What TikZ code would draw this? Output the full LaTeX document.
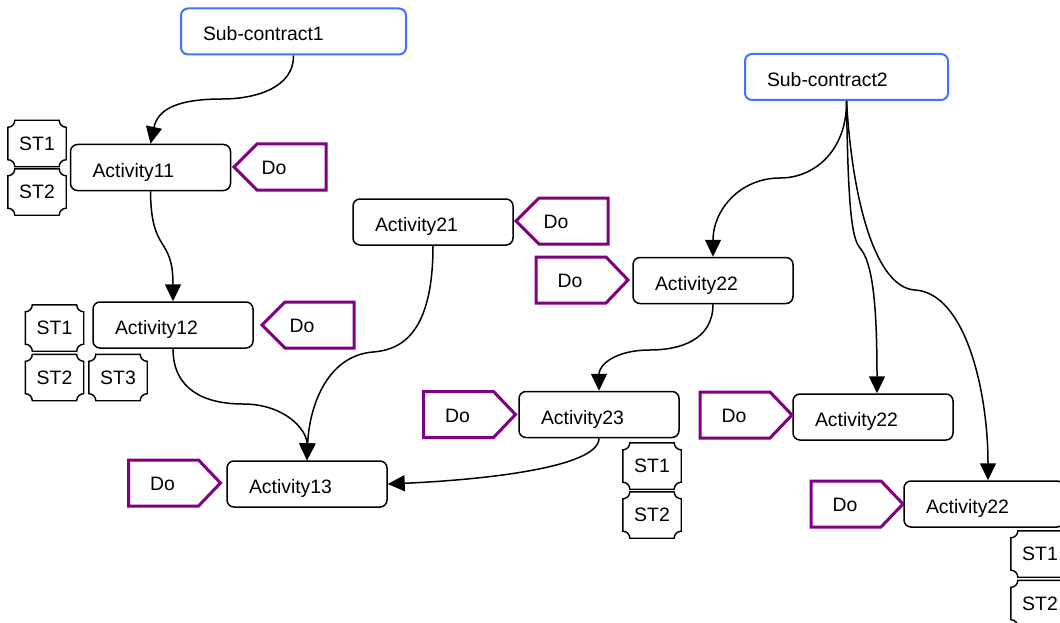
\documentclass[tikz,border=0pt]{standalone}
\usepackage{fontspec}
\setmainfont{Liberation Sans}
\usetikzlibrary{arrows.meta,calc}
\definecolor{doPurple}{RGB}{128,0,128}
\definecolor{scBlue}{RGB}{66,116,246}
\newcommand\doLeft[1]{\draw[dopath] ($(#1.center)+(-40,0)$) -- ($(#1.center)+(-17,23)$) -- ($(#1.center)+(52,23)$) -- ($(#1.center)+(52,-23)$) -- ($(#1.center)+(-17,-23)$) -- cycle;}
\newcommand\doRight[1]{\draw[dopath] ($(#1.center)+(-34,23)$) -- ($(#1.center)+(36,23)$) -- ($(#1.center)+(58,0)$) -- ($(#1.center)+(36,-23)$) -- ($(#1.center)+(-34,-23)$) -- cycle;}
\newcommand\stOutline[1]{\draw[stpath] ($(#1.north west)+(0,-7)$) arc[start angle=-90,end angle=0,radius=7] -- ($(#1.north east)+(-7,0)$) arc[start angle=180,end angle=270,radius=7] -- ($(#1.south east)+(0,7)$) arc[start angle=90,end angle=180,radius=7] -- ($(#1.south west)+(7,0)$) arc[start angle=0,end angle=90,radius=7] -- cycle;}
\begin{document}
\begin{tikzpicture}[x=1pt,y=1pt,
  every node/.style={font=\fontsize{19.4pt}{23pt}\selectfont},
  actbox/.style={draw, rounded corners=7pt, line width=1.5pt, minimum height=46pt,
    inner xsep=22pt, inner ysep=0pt, text width=116pt, align=left,
    text height=22pt, text depth=3pt},
  scbox/.style={actbox, draw=scBlue, line width=2pt},
  donode/.style={inner sep=0pt, text height=15pt, text depth=0pt},
  dopath/.style={draw=doPurple, line width=3pt, line join=miter},
  stbox/.style={minimum width=58pt, minimum height=46pt, inner sep=0pt},
  stpath/.style={draw, line width=1.4pt},
  edge/.style={draw, line width=1.5pt, -{Triangle[length=17pt,width=16pt]}}
]
\useasboundingbox (0,0) rectangle (1060,-623);
\clip (0,0) rectangle (1060,-623);

% sub-contracts
\node[scbox, text width=181pt] (sc1) at (293.5,-31.5) {Sub-contract1};
\node[scbox, text width=159pt] (sc2) at (846.5,-77) {Sub-contract2};

% activities
\node[actbox] (a11) at (150.5,-167.5) {Activity11};
\node[actbox] (a12) at (173,-325) {Activity12};
\node[actbox] (a13) at (307,-484) {Activity13};
\node[actbox] (a21) at (433,-222) {Activity21};
\node[actbox] (a22a) at (713,-280.5) {Activity22};
\node[actbox] (a23) at (599,-414.5) {Activity23};
\node[actbox] (a22b) at (873,-417) {Activity22};
\node[actbox] (a22c) at (984,-504) {Activity22};

% Do tags
\node[donode] (d11) at (274,-167) {Do};
\node[donode] (d12) at (302,-325) {Do};
\node[donode] (d21) at (556,-221) {Do};
\node[donode] (d22a) at (570,-280) {Do};
\node[donode] (d23) at (457.5,-414.5) {Do};
\node[donode] (d22b) at (734,-415) {Do};
\node[donode] (d13) at (162.5,-483) {Do};
\node[donode] (d22c) at (845,-504) {Do};
\doLeft{d11}\doLeft{d12}\doLeft{d21}
\doRight{d22a}\doRight{d23}\doRight{d22b}\doRight{d13}\doRight{d22c}

% ST tags
\node[stbox] (s11a) at (37,-143.5) {ST1};
\node[stbox] (s11b) at (37,-192) {ST2};
\node[stbox] (s12a) at (54.5,-328) {ST1};
\node[stbox] (s12b) at (54.5,-377.5) {ST2};
\node[stbox] (s12c) at (118,-377.5) {ST3};
\node[stbox] (s23a) at (652,-466) {ST1};
\node[stbox] (s23b) at (652,-515) {ST2};
\node[stbox] (s22a) at (1040,-554) {ST1};
\node[stbox] (s22b) at (1040,-603.5) {ST2};
\stOutline{s11a}\stOutline{s11b}\stOutline{s12a}\stOutline{s12b}\stOutline{s12c}
\stOutline{s23a}\stOutline{s23b}\stOutline{s22a}\stOutline{s22b}

% connectors
\draw[edge] (sc1.south) .. controls (294,-88) and (255,-99) .. (222,-99)
  .. controls (180,-99) and (158,-108) .. (a11.north);
\draw[edge] (a11.south) .. controls (151,-255) and (173,-235) .. (a12.north);
\draw[edge] (a12.south) .. controls (173,-390) and (205,-404) .. (243,-404)
  .. controls (285,-404) and (307,-430) .. (a13.north);
\draw[edge] (a21.south) .. controls (433,-335) and (400,-350) .. (373,-352)
  .. controls (325,-356) and (309,-410) .. (a13.north);
\draw[edge] (sc2.south) .. controls (847,-150) and (815,-178) .. (780,-178)
  .. controls (740,-178) and (713,-210) .. (a22a.north);
\draw[edge] (a22a.south) .. controls (713,-340) and (680,-350) .. (650,-350)
  .. controls (615,-350) and (599,-365) .. (a23.north);
\draw[edge] (a23.south) .. controls (599,-468) and (480,-480) .. (a13.east);
\draw[edge] (sc2.south) .. controls (848,-200) and (851,-238) .. (860,-248)
  .. controls (872,-262) and (877,-300) .. ([xshift=4pt]a22b.north);
\draw[edge] (sc2.south) .. controls (853,-210) and (878,-288) .. (915,-290)
  .. controls (965,-293) and (988,-390) .. ([xshift=4pt]a22c.north);
\end{tikzpicture}
\end{document}
